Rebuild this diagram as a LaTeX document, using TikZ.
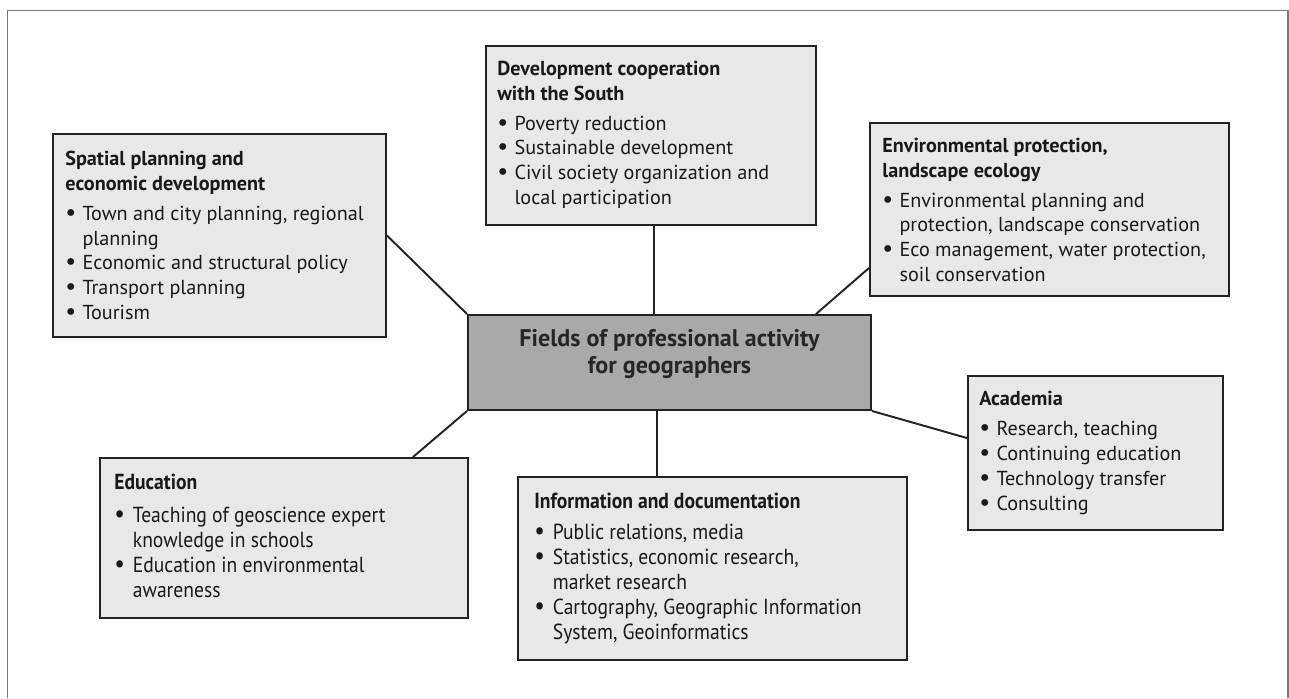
\documentclass[tikz,border=0pt]{standalone}
\usepackage{fontspec}
\setmainfont{PT Sans}
\newfontfamily\condfont[FakeStretch=0.9]{PT Sans}
\usetikzlibrary{fit,calc}
\tikzset{>=latex}
\definecolor{boxfill}{HTML}{E8E8E8}
\definecolor{hubfill}{HTML}{A9A9A9}
\definecolor{edgecol}{HTML}{222222}
\definecolor{framecol}{HTML}{7A7A7A}
\tikzstyle{field}=[rectangle,draw=edgecol,fill=boxfill,line width=1.1pt,inner sep=0pt]
\tikzstyle{hub}=[rectangle,draw=edgecol,fill=hubfill,line width=1.1pt,inner sep=0pt,align=center,text=black!85,font=\fontsize{13.7}{15.5}\selectfont\bfseries]
\tikzstyle{fieldtext}=[anchor=north west,inner sep=0pt,align=left,text=black!90,font=\fontsize{11.5}{14.2}\selectfont]
\tikzstyle{condtext}=[fieldtext,font=\fontsize{12.4}{14.3}\condfont]
\tikzstyle{link}=[draw=edgecol,line width=1.1pt]
\newcommand{\bul}{\makebox[0.85em][l]{\scalebox{1.2}{\textbullet}}}
\newcommand{\ind}{\hspace*{0.85em}}

\begin{document}
\begin{tikzpicture}[x=0.02cm,y=-0.02cm]
	\useasboundingbox (0,0) rectangle (1289,698);
	\draw[framecol,line width=0.7pt] (7.5,698) -- (7.5,10.5) -- (1288,10.5) -- (1288,698);
	
	% boxes
	\node[field,fit={(53,134) (386,337)}] (spatial) {};
	\node[field,fit={(486,46) (816,225)}] (devsouth) {};
	\node[field,fit={(870,123) (1229,296)}] (environ) {};
	\node[field,fit={(968,376) (1223,530)}] (academia) {};
	\node[field,fit={(100,458) (468,618)}] (education) {};
	\node[field,fit={(518,477) (907,660)}] (infodoc) {};
	\node[hub,fit={(468,315) (871,410)}] (hub) {Fields of professional activity\\for geographers};
	
	% texts
	\node[fieldtext] (spatialtxt) at (65,151) {\textbf{Spatial planning and}\\\textbf{economic development}\\[2.5pt]
		\bul Town and city planning, regional\\\ind planning\\
		\bul Economic and structural policy\\
		\bul Transport planning\\
		\bul Tourism};
	\node[fieldtext] (devsouthtxt) at (497,61) {\textbf{Development cooperation}\\\textbf{with the South}\\[2.5pt]
		\bul Poverty reduction\\
		\bul Sustainable development\\
		\bul Civil society organization and\\\ind local participation};
	\node[fieldtext] (environtxt) at (882,138) {\textbf{Environmental protection,}\\\textbf{landscape ecology}\\[2.5pt]
		\bul Environmental planning and\\\ind protection, landscape conservation\\
		\bul Eco management, water protection,\\\ind soil conservation};
	\node[fieldtext] (academiatxt) at (979,391) {\textbf{Academia}\\[3pt]
		\bul Research, teaching\\
		\bul Continuing education\\
		\bul Technology transfer\\
		\bul Consulting};
	\node[condtext] (educationtxt) at (114,474) {\textbf{Education}\\[4pt]
		\bul Teaching of geoscience expert\\\ind knowledge in schools\\
		\bul Education in environmental\\\ind awareness};
	\node[condtext] (infodoctxt) at (534,493) {\textbf{Information and documentation}\\[3pt]
		\bul Public relations, media\\
		\bul Statistics, economic research,\\\ind market research\\
		\bul Cartography, Geographic Information\\\ind System, Geoinformatics};
	
	% connectors
	\draw[link] (spatial.east) -- (hub.north west);
	\draw[link] (devsouth.south -| 654,0) -- (hub.north -| 654,0);
	\draw[link] ([shift={(0,-29)}]environ.south west) -- ([shift={(-56,0)}]hub.north east);
	\draw[link] (hub.south east) -- ([shift={(0,63)}]academia.north west);
	\draw[link] ([shift={(-56,0)}]education.north east) -- (hub.south west);
	\draw[link] (hub.south -| 657,0) -- (infodoc.north -| 657,0);
\end{tikzpicture}
\end{document}
